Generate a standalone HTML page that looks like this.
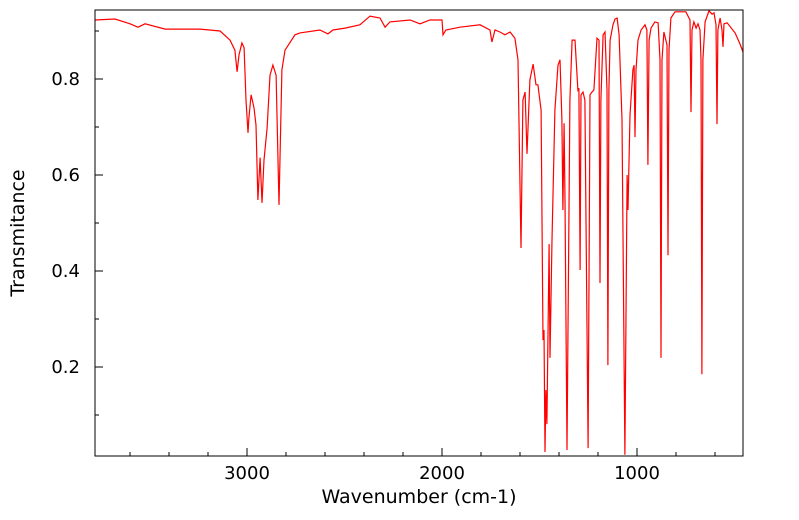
<!DOCTYPE html>
<html><head><meta charset="utf-8"><style>
body{margin:0;background:#fff;font-family:"DejaVu Sans",sans-serif;}
</style></head><body>
<svg width="799" height="516" xmlns="http://www.w3.org/2000/svg" font-family="DejaVu Sans, sans-serif">
<g id="ticks"></g>
<path id="line" fill="none" stroke="#ff0000" stroke-width="1.2"/>
<rect x="95" y="10" width="648" height="446" fill="none" stroke="#000" stroke-width="1"/>
<text x="24" y="233" transform="rotate(-90 24 233)" text-anchor="middle" font-size="19">Transmitance</text>
<text x="419" y="503" text-anchor="middle" font-size="19">Wavenumber (cm-1)</text>
</svg>
<script>
const wavenumbers=[3779,3677,3600,3559,3523,3420,3241,3138,3087,3062,3051,3041,3026,3015,3005,2995,2990,2979,2964,2954,2944,2933,2923,2913,2897,2882,2867,2851,2836,2821,2805,2754,2728,2626,2585,2559,2497,2421,2369,2318,2292,2267,2164,2113,2062,2000,1995,1980,1908,1805,1754,1744,1728,1703,1677,1651,1626,1610,1595,1585,1574,1564,1549,1533,1518,1508,1492,1482,1477,1472,1467,1462,1451,1446,1436,1421,1405,1395,1385,1380,1374,1369,1359,1344,1333,1318,1303,1298,1292,1287,1277,1267,1251,1241,1231,1221,1205,1195,1190,1185,1174,1164,1154,1149,1144,1138,1123,1113,1102,1092,1077,1062,1051,1046,1036,1021,1015,1010,1005,995,979,959,949,944,938,928,908,892,882,877,872,862,846,841,836,826,805,780,749,728,723,718,708,697,687,677,672,667,662,651,631,615,605,595,590,585,574,564,559,554,538,497,472,456];
const transmittance=[0.923,0.925,0.915,0.908,0.915,0.904,0.904,0.900,0.881,0.860,0.815,0.850,0.875,0.865,0.756,0.688,0.719,0.767,0.740,0.704,0.548,0.636,0.542,0.631,0.698,0.808,0.829,0.808,0.538,0.819,0.860,0.892,0.896,0.902,0.894,0.902,0.906,0.913,0.931,0.927,0.908,0.919,0.923,0.915,0.923,0.923,0.892,0.902,0.908,0.913,0.902,0.877,0.902,0.898,0.892,0.898,0.885,0.840,0.448,0.756,0.773,0.644,0.798,0.831,0.788,0.788,0.735,0.256,0.277,0.023,0.152,0.081,0.456,0.219,0.465,0.735,0.829,0.840,0.715,0.527,0.708,0.548,0.027,0.756,0.881,0.881,0.777,0.781,0.402,0.767,0.773,0.756,0.031,0.767,0.773,0.777,0.885,0.881,0.375,0.756,0.892,0.898,0.777,0.204,0.777,0.881,0.913,0.925,0.927,0.892,0.715,0.017,0.600,0.527,0.725,0.819,0.829,0.679,0.819,0.881,0.902,0.913,0.902,0.621,0.881,0.906,0.919,0.917,0.840,0.219,0.840,0.898,0.871,0.433,0.860,0.927,0.940,0.940,0.940,0.923,0.731,0.902,0.919,0.906,0.915,0.902,0.840,0.185,0.840,0.919,0.942,0.935,0.938,0.913,0.706,0.902,0.927,0.902,0.867,0.915,0.917,0.896,0.873,0.856];
const xMajor=[3000,2000,1000];
const xMinor=[3600,3400,3200,2800,2600,2400,2200,1800,1600,1400,1200,800,600];
const yMajor=[0.2,0.4,0.6,0.8];
const yMinor=[0.1,0.3,0.5,0.7,0.9];
const X=w=>247+(3000-w)*0.195;
const Y=t=>79+(0.8-t)*480;
const NS="http://www.w3.org/2000/svg";
let d="";
for(let i=0;i<wavenumbers.length;i++){d+=(i?"L":"M")+X(wavenumbers[i]).toFixed(1)+","+Y(transmittance[i]).toFixed(1);}
document.getElementById('line').setAttribute('d',d);
const g=document.getElementById('ticks');
function ln(x1,y1,x2,y2,name){const l=document.createElementNS(NS,'line');l.setAttribute('x1',x1);l.setAttribute('y1',y1);l.setAttribute('x2',x2);l.setAttribute('y2',y2);l.setAttribute('stroke','#000');


g.appendChild(l);}
function tx(x,y,s,anchor,name){const t=document.createElementNS(NS,'text');t.setAttribute('x',x);t.setAttribute('y',y);t.setAttribute('text-anchor',anchor);t.setAttribute('font-size','18');t.textContent=s;


g.appendChild(t);}
xMajor.forEach(w=>{ln(X(w),456,X(w),448,'x-major-tick');tx(X(w),479,String(w),'middle','x-tick-label');});
xMinor.forEach(w=>{ln(X(w),456,X(w),452,'x-minor-tick');});
yMajor.forEach(t=>{ln(95,Y(t),103,Y(t),'y-major-tick');tx(80,Y(t)+6,t.toFixed(1),'end','y-tick-label');});
yMinor.forEach(t=>{ln(95,Y(t),99,Y(t),'y-minor-tick');});
</script>
</body></html>
